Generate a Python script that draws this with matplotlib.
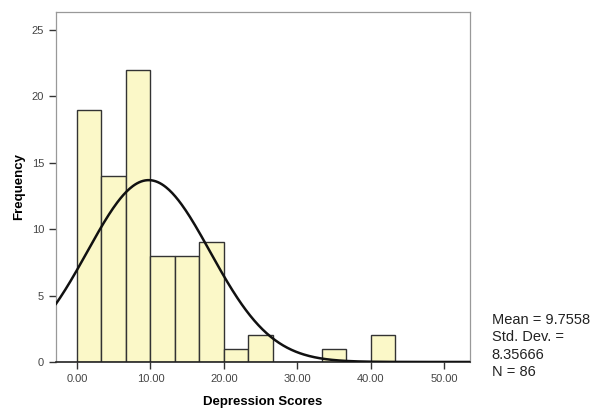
import numpy as np
import matplotlib.pyplot as plt

plt.rcParams['font.family'] = ['Liberation Sans', 'DejaVu Sans']

# histogram bins (width 10/3) and counts
bin_edges = [0.0, 10/3, 20/3, 10.0, 40/3, 50/3, 20.0, 70/3, 80/3, 30.0, 100/3, 110/3, 40.0, 130/3]
counts = [19, 14, 22, 8, 8, 9, 1, 2, 0, 0, 1, 0, 2]

mean = 9.7558
std = 8.35666
n = 86

xticks = [0, 10, 20, 30, 40, 50]
yticks = [0, 5, 10, 15, 20, 25]

fig = plt.figure(figsize=(6.04, 4.09), dpi=100)
ax = fig.add_axes([0.0927, 0.115, 0.6855, 0.856])

widths = np.diff(bin_edges)
ax.bar(bin_edges[:-1], counts, width=widths, align='edge',
       color='#fbf8c8', edgecolor='#333333', linewidth=1.0, zorder=2)

# fitted normal curve scaled to counts
bw = bin_edges[1] - bin_edges[0]
xs = np.linspace(-2.86, 53.5, 400)
ys = n * bw / (std * np.sqrt(2 * np.pi)) * np.exp(-0.5 * ((xs - mean) / std) ** 2)
ax.plot(xs, ys, color='#111111', linewidth=1.8, zorder=3)

ax.set_xlim(-2.86, 53.5)
ax.set_ylim(0, 26.35)
ax.set_xticks(xticks)
ax.set_xticklabels([f"{t:.2f}" for t in xticks])
ax.set_yticks(yticks)
ax.tick_params(axis='both', direction='out', length=5, width=1, labelsize=8,
               color='#333333', labelcolor='#444444')
ax.tick_params(axis='x', pad=4)

for s in ['top', 'right', 'left']:
    ax.spines[s].set_color('#999999')
    ax.spines[s].set_linewidth(0.9)
ax.spines['bottom'].set_color('#222222')
ax.spines['bottom'].set_linewidth(1.2)

ax.set_xlabel('Depression Scores', fontsize=9.5, fontweight='bold', labelpad=8)
ax.set_ylabel('Frequency', fontsize=9.5, fontweight='bold', labelpad=5)

fig.text(0.814, 0.154, 'Mean = 9.7558\nStd. Dev. =\n8.35666\nN = 86',
         fontsize=10.5, color='#222222', va='center', ha='left', linespacing=1.3)

fig.savefig('out.png', dpi=100)
